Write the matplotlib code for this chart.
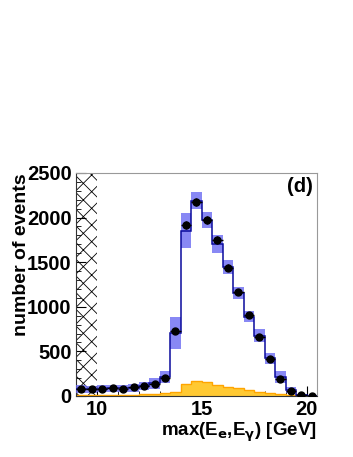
import numpy as np
import matplotlib
matplotlib.use('Agg')
import matplotlib.pyplot as plt
from matplotlib.ticker import MultipleLocator

plt.rcParams['font.family'] = ['Liberation Sans', 'DejaVu Sans']
plt.rcParams['hatch.linewidth'] = 0.6

# bin edges of max(E_e, E_gamma) in GeV
bin_edges = np.arange(9.0, 20.51, 0.5)

# observed events
data_counts = [82, 75, 82, 90, 82, 101, 112, 138, 202, 732, 1917, 2178, 1973,
               1749, 1439, 1170, 912, 658, 415, 191, 60, 8, 0]
# total simulation and its uncertainty
mc_counts = [78, 76, 80, 84, 86, 94, 112, 142, 213, 706, 1853, 2190, 1973,
             1704, 1446, 1155, 889, 676, 422, 213, 67, 11, 2]
mc_errors = [40, 40, 40, 40, 42, 44, 48, 60, 62, 183, 196, 95, 86, 103, 80,
             71, 63, 73, 63, 62, 37, 15, 5]
# background
bkg_counts = [12, 12, 12, 13, 14, 15, 17, 20, 28, 50, 134, 168, 153, 123, 105,
              85, 67, 48, 30, 19, 8, 3, 1]

centers = 0.5 * (bin_edges[:-1] + bin_edges[1:])
half_width = 0.5 * (bin_edges[1] - bin_edges[0])
mc = np.array(mc_counts)
mc_err = np.array(mc_errors)
data = np.array(data_counts)

fig = plt.figure(figsize=(3.53, 4.57), dpi=100)
ax = fig.add_axes([0.215, 0.1335, 0.683, 0.488])

# excluded region
ax.axvspan(9.0, 10.0, facecolor='white', edgecolor='black', hatch='xx',
           linewidth=0, zorder=1)

# background histogram
ax.stairs(bkg_counts, bin_edges, fill=True, color='#ffc933', zorder=2)
ax.stairs(bkg_counts, bin_edges, color='#ffa500', linewidth=1.0, zorder=2)

# simulation uncertainty band
ax.bar(centers, 2 * mc_err, bottom=mc - mc_err, width=2 * half_width,
       color='#6a6af2', alpha=0.8, linewidth=0, zorder=3)
ax.stairs(mc, bin_edges, color='#0a0a9c', linewidth=1.1, zorder=4,
          baseline=None)

# data
ax.errorbar(centers, data, xerr=half_width, yerr=np.sqrt(data), fmt='o',
            color='black', markersize=5, elinewidth=1.0, capsize=0, zorder=5)

ax.set_xlim(9.0, 20.5)
ax.set_ylim(0, 2500)
ax.xaxis.set_major_locator(MultipleLocator(5))
ax.xaxis.set_minor_locator(MultipleLocator(1))
ax.yaxis.set_major_locator(MultipleLocator(500))
ax.yaxis.set_minor_locator(MultipleLocator(100))
ax.tick_params(which='both', direction='in', top=False, right=False,
               labelsize=14.5, pad=3)
ax.tick_params(which='major', length=7)
ax.tick_params(which='minor', length=3.5)
for lab in ax.get_xticklabels() + ax.get_yticklabels():
    lab.set_fontweight('bold')

for side in ['top', 'right']:
    ax.spines[side].set_color('#999999')
for side in ['left', 'bottom']:
    ax.spines[side].set_color('#333333')

ax.set_ylabel('number of events', fontsize=14, fontweight='bold')
ax.yaxis.set_label_coords(-0.19, 1.0)
ax.yaxis.label.set_horizontalalignment('right')
ax.set_xlabel(r'max(E$_\mathbf{e}$,E$_{\mathbf{\gamma}}$) [GeV]',
              fontsize=13.5, fontweight='bold')
ax.xaxis.set_label_coords(1.0, -0.11)
ax.xaxis.label.set_horizontalalignment('right')

ax.text(0.983, 0.98, '(d)', transform=ax.transAxes, ha='right', va='top',
        fontsize=14.5, fontweight='bold')

fig.savefig('out.png', dpi=100)
